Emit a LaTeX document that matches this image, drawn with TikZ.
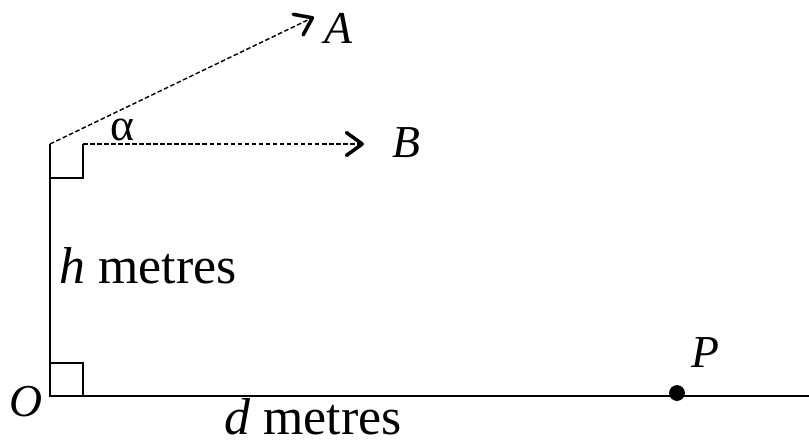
\documentclass[tikz,border=0pt]{standalone}
\usepackage{fontspec}
\setmainfont{Liberation Serif}
\usetikzlibrary{arrows.meta}
\begin{document}
\begin{tikzpicture}[x=0.02cm, y=-0.02cm, line width=0.8pt,
    ray/.style={dash pattern=on 2.6pt off 1.4pt, -{Straight Barb[length=9pt, width=13pt, line width=2pt, round]}},
    lab/.style={font=\fontsize{26}{30}\selectfont, inner sep=0pt, anchor=base west},
    big/.style={font=\fontsize{29.5}{34}\selectfont, inner sep=0pt, anchor=base}]
  \useasboundingbox (0,0) rectangle (809,444);
  \coordinate (O) at (50,396);
  \coordinate (T) at (50,144);
  \coordinate (E) at (809,396);
  \coordinate (tipA) at (314,17);
  \coordinate (tipB) at (364,144);
  % tower, ground and right angles
  \draw (T) -- (O) -- (E);
  \draw (O) ++(0,-33) -| ++(33,33);
  \draw (T) ++(0,34) -| ++(33,-34);
  % lines of sight
  \draw[ray] (T) -- (tipA);
  \draw[ray] (T) ++(33,0) -- (tipB);
  \node[lab] (A) at (324,43) {\textit{A}};
  \node[lab] (B) at (392,157) {\textit{B}};
  \node[lab] (al) at (110,140) {α};
  \node[lab] (Olab) at (9,416) {\textit{O}};
  \node[circle, fill, inner sep=0pt, minimum size=9pt] (P) at (677,393) {};
  \node[lab] (Plab) at (691,367) {\textit{P}};
  \node[big] (h) at (148,283) {\textit{h} metres};
  \node[big] (d) at (313,434) {\textit{d} metres};
\end{tikzpicture}
\end{document}
